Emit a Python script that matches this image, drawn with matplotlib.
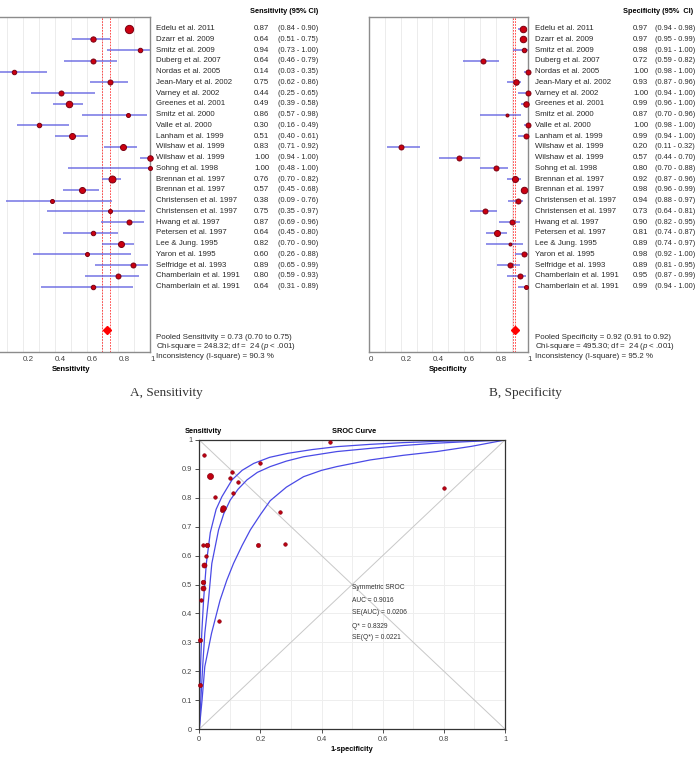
import matplotlib
matplotlib.use("Agg")
import matplotlib.pyplot as plt
import matplotlib.transforms as mtransforms
import numpy as np

plt.rcParams['font.family'] = ['Liberation Sans', 'DejaVu Sans']
plt.rcParams['mathtext.fontset'] = 'custom'
plt.rcParams['mathtext.it'] = 'Liberation Sans:italic'

studies = ["Edelu et al. 2011", "Dzarr et al. 2009", "Smitz et al. 2009", "Duberg et al. 2007",
           "Nordas et al. 2005", "Jean-Mary et al. 2002", "Varney et al. 2002", "Greenes et al. 2001",
           "Smitz et al. 2000", "Valle et al. 2000", "Lanham et al. 1999", "Wilshaw et al. 1999",
           "Wilshaw et al. 1999", "Sohng et al. 1998", "Brennan et al. 1997", "Brennan et al. 1997",
           "Christensen et al. 1997", "Christensen et al. 1997", "Hwang et al. 1997", "Petersen et al. 1997",
           "Lee & Jung. 1995", "Yaron et al. 1995", "Selfridge et al. 1993", "Chamberlain et al. 1991",
           "Chamberlain et al. 1991"]

sens = [0.87, 0.64, 0.94, 0.64, 0.14, 0.75, 0.44, 0.49, 0.86, 0.30, 0.51, 0.83, 1.00, 1.00, 0.76,
        0.57, 0.38, 0.75, 0.87, 0.64, 0.82, 0.60, 0.89, 0.80, 0.64]
sens_lo = [0.84, 0.51, 0.73, 0.46, 0.03, 0.62, 0.25, 0.39, 0.57, 0.16, 0.40, 0.71, 0.94, 0.48, 0.70,
           0.45, 0.09, 0.35, 0.69, 0.45, 0.70, 0.26, 0.65, 0.59, 0.31]
sens_hi = [0.90, 0.75, 1.00, 0.79, 0.35, 0.86, 0.65, 0.58, 0.98, 0.49, 0.61, 0.92, 1.00, 1.00, 0.82,
           0.68, 0.76, 0.97, 0.96, 0.80, 0.90, 0.88, 0.99, 0.93, 0.89]
sens_wt = [8.3, 5.3, 4.5, 5, 4.5, 5, 5, 6.5, 4, 4.5, 6, 6, 5.5, 4, 7, 6, 4, 4, 5, 4.5, 6, 4, 5, 5, 4.5]

spec = [0.97, 0.97, 0.98, 0.72, 1.00, 0.93, 1.00, 0.99, 0.87, 1.00, 0.99, 0.20, 0.57, 0.80, 0.92,
        0.98, 0.94, 0.73, 0.90, 0.81, 0.89, 0.98, 0.89, 0.95, 0.99]
spec_lo = [0.94, 0.95, 0.91, 0.59, 0.98, 0.87, 0.94, 0.96, 0.70, 0.98, 0.94, 0.11, 0.44, 0.70, 0.87,
           0.96, 0.88, 0.64, 0.82, 0.74, 0.74, 0.92, 0.81, 0.87, 0.94]
spec_hi = [0.98, 0.99, 1.00, 0.82, 1.00, 0.96, 1.00, 1.00, 0.96, 1.00, 1.00, 0.32, 0.70, 0.88, 0.96,
           0.99, 0.97, 0.81, 0.95, 0.87, 0.97, 1.00, 0.95, 0.99, 1.00]
spec_wt = [6.5, 6.5, 4.5, 5, 5, 5.5, 5, 5.5, 3, 5, 5, 5, 5, 5, 6, 6.5, 5, 5, 5, 6, 3, 5, 5, 5, 4]

pooled_sens = (0.73, 0.70, 0.75)
pooled_spec = (0.92, 0.91, 0.92)
sens_stats = ["Pooled Sensitivity = 0.73 (0.70 to 0.75)",
              "Chi-square = 248.32; df =  24 ($\\it{p}$ < .001)",
              "Inconsistency (I-square) = 90.3 %"]
spec_stats = ["Pooled Specificity = 0.92 (0.91 to 0.92)",
              "Chi-square = 495.30; df =  24 ($\\it{p}$ < .001)",
              "Inconsistency (I-square) = 95.2 %"]

# SROC scatter (1-specificity, sensitivity) as plotted
roc_fpr = [0.034, 0.025, 0.016, 0.281, 0.003, 0.074, 0.007, 0.011, 0.128, 0.003, 0.011, 0.800, 0.426,
           0.199, 0.077, 0.016, 0.063, 0.265, 0.101, 0.191, 0.111, 0.023, 0.107, 0.052, 0.011]
roc_tpr = [0.875, 0.637, 0.948, 0.639, 0.152, 0.758, 0.446, 0.487, 0.856, 0.308, 0.507, 0.833, 0.994,
           0.921, 0.764, 0.567, 0.375, 0.752, 0.870, 0.637, 0.818, 0.600, 0.890, 0.802, 0.637]
roc_wt = [6, 4.5, 3.5, 3.5, 4, 4, 3.5, 5, 3.5, 4, 4.5, 3.5, 3.5, 3.5, 5.5, 5, 3.5, 3.5, 3.5, 4, 3.5,
          3.5, 3.5, 3.5, 3.5]

# SROC curves
up_x = [0, 0.001, 0.004, 0.008, 0.014, 0.023, 0.036, 0.055, 0.074, 0.107, 0.140, 0.178, 0.23, 0.29,
        0.37, 0.45, 0.56, 0.667, 0.8, 1]
up_y = [0, 0.10, 0.216, 0.331, 0.446, 0.573, 0.68, 0.76, 0.804, 0.862, 0.895, 0.919, 0.940, 0.954,
        0.967, 0.977, 0.985, 0.991, 0.996, 1]
mid_x = [0, 0.005, 0.011, 0.018, 0.030, 0.041, 0.063, 0.080, 0.101, 0.127, 0.156, 0.19, 0.232, 0.285,
         0.341, 0.45, 0.559, 0.667, 0.777, 0.89, 1]
mid_y = [0, 0.10, 0.216, 0.331, 0.446, 0.573, 0.689, 0.745, 0.792, 0.830, 0.862, 0.888, 0.908, 0.927,
         0.942, 0.960, 0.971, 0.981, 0.989, 0.995, 1]
low_x = [0, 0.009, 0.018, 0.040, 0.068, 0.090, 0.112, 0.140, 0.167, 0.20, 0.232, 0.285, 0.341, 0.40,
         0.45, 0.559, 0.667, 0.777, 0.89, 1]
low_y = [0, 0.10, 0.216, 0.331, 0.446, 0.515, 0.573, 0.635, 0.689, 0.742, 0.79, 0.837, 0.873, 0.895,
         0.908, 0.931, 0.947, 0.96, 0.978, 1]

sroc_text = ["Symmetric SROC", "AUC = 0.9016", "SE(AUC) = 0.0206", "Q* = 0.8329", "SE(Q*) = 0.0221"]

W, H = 696, 760
fig = plt.figure(figsize=(W / 100, H / 100), dpi=100)


def rect(l, t, r, b):
    return [l / W, 1 - b / H, (r - l) / W, (b - t) / H]


RED = '#cc0010'
EDGE = '#7a0012'
CI = '#5c5ce0'
TXT = '#2a2a2a'
FS = 5.7


def forest(ax, est, lo, hi, wt, pooled, header, stats, xlabel, cols, head_right, zero_label):
    n = len(est)
    rows = np.arange(n)
    ax.set_xlim(0, 1)
    ax.set_ylim(30.09, -1.07)
    for g in np.arange(0.1, 1.0, 0.1):
        ax.axvline(g, color='#ececec', lw=0.7, zorder=0)
    ax.axvline(pooled[1], color='#ff3030', lw=0.6, ls=(0, (2, 1.5)), zorder=1)
    ax.axvline(pooled[2], color='#ff3030', lw=0.6, ls=(0, (2, 1.5)), zorder=1)
    for i in rows:
        ax.plot([lo[i], hi[i]], [i, i], color=CI, lw=1.1, alpha=0.85, zorder=2, solid_capstyle='butt')
        ax.plot(est[i], i, 'o', ms=wt[i] * 0.72, mfc=RED, mec=EDGE, mew=0.7, zorder=3, clip_on=False)
    ax.plot(pooled[0], 28, 'D', ms=4.2, color='#ff0000', zorder=3)
    for s in ax.spines.values():
        s.set_color('#8c8c8c')
        s.set_linewidth(1.0)
    ax.set_yticks([])
    ax.set_xticks([0, 0.2, 0.4, 0.6, 0.8, 1])
    ax.set_xticklabels(['0' if zero_label else '', '0.2', '0.4', '0.6', '0.8', '1'], fontsize=5.8,
                       color='#444444')
    for lab in ax.get_xticklabels():
        lab.set_horizontalalignment('left')
    ax.tick_params(axis='x', length=0, pad=3)
    ax.set_xlabel(xlabel, fontsize=5.6, fontweight='bold', labelpad=2)
    tr = mtransforms.blended_transform_factory(fig.transFigure, ax.transData)
    xn, xv, xc = [c / W for c in cols]
    for i in rows:
        ax.text(xn, i, studies[i], transform=tr, fontsize=FS, va='center', ha='left', color=TXT)
        ax.text(xv, i, '%.2f' % est[i], transform=tr, fontsize=FS, va='center', ha='left', color=TXT)
        ax.text(xc, i, '(%.2f - %.2f)' % (lo[i], hi[i]), transform=tr, fontsize=5.3, va='center',
                ha='left', color=TXT)
    ax.text(head_right / W, -1.3, header, transform=tr, fontsize=5.3, fontweight='bold', va='bottom',
            ha='right')
    for k, s in enumerate(stats):
        ax.text(xn, 28.7 + 0.9 * k, s, transform=tr, fontsize=FS, va='center', ha='left', color=TXT)


axA = fig.add_axes(rect(-8.5, 17, 150, 352))
forest(axA, sens, sens_lo, sens_hi, sens_wt, pooled_sens, "Sensitivity (95% CI)", sens_stats,
       "Sensitivity", (156, 254, 278), 318, False)
axB = fig.add_axes(rect(369.1, 17, 527.5, 352))
forest(axB, spec, spec_lo, spec_hi, spec_wt, pooled_spec, "Specificity (95%  CI)", spec_stats,
       "Specificity", (535, 633, 655), 693, True)

fig.text(166 / W, 1 - 393 / H, "A, Sensitivity", family='Liberation Serif', fontsize=9.5, ha='center',
         va='center', color='#333333')
fig.text(525 / W, 1 - 393 / H, "B, Specificity", family='Liberation Serif', fontsize=9.5, ha='center',
         va='center', color='#333333')
fig.text(345 / W, 1 - 766 / H, "C, sROC curve", family='Liberation Serif', fontsize=9.5, ha='center',
         va='center', color='#333333')

# SROC panel
axC = fig.add_axes(rect(199.3, 440, 505, 729))
axC.set_xlim(0, 1)
axC.set_ylim(0, 1)
for g in np.arange(0.1, 1.0, 0.1):
    axC.axvline(g, color='#eeeeee', lw=0.7, zorder=0)
    axC.axhline(g, color='#eeeeee', lw=0.7, zorder=0)
axC.plot([0, 1], [0, 1], color='#c8c8c8', lw=0.7, zorder=1)
axC.plot([0, 1], [1, 0], color='#c8c8c8', lw=0.7, zorder=1)
for cx, cy in [(up_x, up_y), (mid_x, mid_y), (low_x, low_y)]:
    axC.plot(cx, cy, color='#4a4ae6', lw=0.9, zorder=2)
for i in range(len(roc_fpr)):
    axC.plot(roc_fpr[i], roc_tpr[i], 'o', ms=roc_wt[i] * 0.72, mfc='#c00010', mec='#8a0010', mew=0.5,
             zorder=3, clip_on=False)
for s in axC.spines.values():
    s.set_color('#333333')
    s.set_linewidth(0.9)
axC.set_xticks([0, 0.2, 0.4, 0.6, 0.8, 1])
axC.set_xticklabels(['0', '0.2', '0.4', '0.6', '0.8', '1'], fontsize=5.3, color='#444444')
axC.set_yticks(np.arange(0, 1.01, 0.1))
axC.set_yticklabels(['0'] + ['%.1f' % v for v in np.arange(0.1, 0.95, 0.1)] + ['1'], fontsize=5.3,
                    color='#444444')
axC.tick_params(length=3, width=0.6, pad=2, color='#333333')
axC.set_xlabel("1-specificity", fontsize=5.3, fontweight='bold', labelpad=2)
fig.text(185 / W, 1 - 431 / H, "Sensitivity", fontsize=5.3, fontweight='bold', va='center', ha='left')
fig.text(354 / W, 1 - 431 / H, "SROC Curve", fontsize=5.3, fontweight='bold', va='center', ha='center')
for s, yy in zip(sroc_text, [0.488, 0.446, 0.402, 0.356, 0.318]):
    axC.text(0.5, yy, s, fontsize=4.8, va='center', ha='left', color='#333333')

fig.savefig("out.png", dpi=100)
